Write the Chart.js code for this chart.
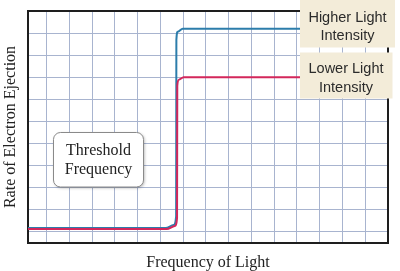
<!DOCTYPE html>
<html>
<head>
<meta charset="utf-8">
<script src="https://cdn.jsdelivr.net/npm/chart.js@4.4.1/dist/chart.umd.min.js"></script>
<style>
    html, body { margin: 0; padding: 0; background: #ffffff; }
    #wrap { width: 400px; height: 271px; position: relative; }
</style>
</head>
<body>
<div id="wrap"><canvas id="lineChart"></canvas></div>
<script>

// Data (x = frequency grid units, y = rate grid units)
const xGridTicks = [0, 1, 2, 3, 4, 5, 6, 7, 8, 9, 10, 11, 12, 13, 14];
const yGridTicks = [1, 2, 3, 4, 5, 6, 7, 8, 9, 10];

const higherX = [-0.82, 5.23, 5.58, 5.69, 5.70, 5.76, 5.98, 15];
const higherY = [1.17, 1.17, 1.30, 1.71, 9.70, 10.06, 10.20, 10.20];

const lowerX = [-0.82, 5.28, 5.63, 5.73, 5.74, 5.80, 6.02, 15];
const lowerY = [1.12, 1.12, 1.26, 1.62, 7.61, 7.88, 8.00, 8.00];

const xTitle = "Frequency of Light";
const yTitle = "Rate of Electron Ejection";
const thresholdLabel = ["Threshold", "Frequency"];
const higherLabel = ["Higher Light", "Intensity"];
const lowerLabel = ["Lower Light", "Intensity"];


// 1. Frame around the plot area
const framePlugin = {
    id: "frame",
    beforeDatasetsDraw(chart) {
        const {ctx, chartArea: a} = chart;
        ctx.save();
        ctx.strokeStyle = "#1e1e1e";
        ctx.lineWidth = 2;
        ctx.strokeRect(a.left, a.top, a.right - a.left, a.bottom - a.top);
        ctx.restore();
    }
};

// 2. Label boxes drawn on top of the lines
const labelPlugin = {
    id: "labels",
    afterDatasetsDraw(chart) {
        const ctx = chart.ctx;
        ctx.save();
        ctx.textAlign = "center";
        ctx.textBaseline = "middle";

        // 2.1. Beige boxes on the right
        ctx.fillStyle = "#f3ecd9";
        ctx.fillRect(300, 0, 95, 47.5);
        ctx.fillRect(300, 52.5, 92.5, 46);
        ctx.fillStyle = "#2b2b2b";
        ctx.font = "14.5px 'Liberation Sans'";
        ctx.fillText(higherLabel[0], 347.5, 17.5);
        ctx.fillText(higherLabel[1], 347.5, 36);
        ctx.fillText(lowerLabel[0], 346, 68.5);
        ctx.fillText(lowerLabel[1], 346, 87.5);

        // 2.2. Threshold callout
        ctx.shadowColor = "rgba(0,0,0,0.3)";
        ctx.shadowBlur = 3;
        ctx.shadowOffsetX = 1;
        ctx.shadowOffsetY = 1;
        ctx.fillStyle = "#ffffff";
        ctx.beginPath();
        ctx.roundRect(53.5, 132.5, 90, 54.5, 7);
        ctx.fill();
        ctx.shadowColor = "transparent";
        ctx.strokeStyle = "#8a8a8a";
        ctx.lineWidth = 1;
        ctx.stroke();
        ctx.fillStyle = "#222222";
        ctx.font = "16px 'Liberation Serif'";
        ctx.fillText(thresholdLabel[0], 98.5, 151);
        ctx.fillText(thresholdLabel[1], 98.5, 170);
        ctx.restore();
    }
};

// 3. Render chart
function renderChart() {
    try {
        const data = {
            datasets: [{
                label: "Lower Light Intensity",
                borderColor: "#d3275b",
                backgroundColor: "#d3275b",
                borderWidth: 2,
                pointRadius: 0,
                cubicInterpolationMode: "monotone",
                data: lowerX.map((x, i) => ({x: x, y: lowerY[i]}))
            }, {
                label: "Higher Light Intensity",
                borderColor: "#2c7dab",
                backgroundColor: "#2c7dab",
                borderWidth: 2,
                pointRadius: 0,
                cubicInterpolationMode: "monotone",
                data: higherX.map((x, i) => ({x: x, y: higherY[i]}))
            }]
        };

        const gridStyle = {color: "#a8b4cf", lineWidth: 1, drawTicks: false};

        const config = {
            type: "line",
            data: data,
            options: {
                responsive: false,
                animation: false,
                events: [],
                layout: {padding: {left: 0, right: 12, top: 11, bottom: 0}},
                plugins: {legend: {display: false}, tooltip: {enabled: false}},
                scales: {
                    x: {
                        type: "linear",
                        min: -0.82,
                        max: 15,
                        grid: gridStyle,
                        border: {display: false},
                        ticks: {display: false},
                        afterBuildTicks: s => { s.ticks = xGridTicks.map(v => ({value: v})); },
                        title: {
                            display: true,
                            text: xTitle,
                            color: "#222222",
                            font: {family: "'Liberation Serif'", size: 16},
                            padding: {top: 10.4, bottom: -1.6}
                        }
                    },
                    y: {
                        type: "linear",
                        min: 0.49,
                        max: 11,
                        grid: gridStyle,
                        border: {display: false},
                        ticks: {display: false},
                        afterBuildTicks: s => { s.ticks = yGridTicks.map(v => ({value: v})); },
                        title: {
                            display: true,
                            text: yTitle,
                            color: "#222222",
                            font: {family: "'Liberation Serif'", size: 16},
                            padding: {top: 1.4, bottom: 7.4}
                        }
                    }
                }
            },
            plugins: [framePlugin, labelPlugin]
        };

        const canvas = document.getElementById("lineChart");
        canvas.width = 400;
        canvas.height = 271;
        const myChart = new Chart(canvas, config);
    } catch (error) {
        console.log(error);
    }
}

renderChart();
</script>
</body>
</html>
